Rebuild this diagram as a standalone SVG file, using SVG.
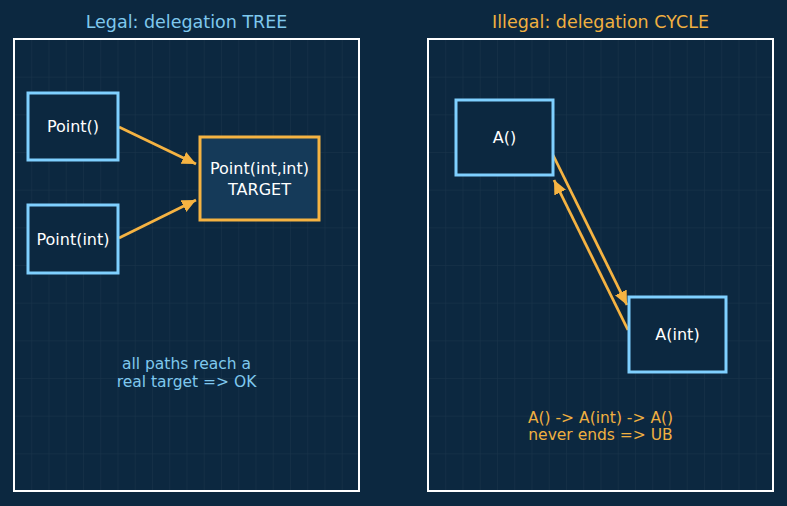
<svg xmlns="http://www.w3.org/2000/svg" width="787" height="506" viewBox="0 0 787 506">
<defs>
<style>
.title{font-family:"DejaVu Sans",sans-serif;font-size:17.5px;text-anchor:middle}
.lbl{font-family:"DejaVu Sans",sans-serif;font-size:16px;fill:#ffffff;text-anchor:middle;dominant-baseline:central}
.cap{font-family:"DejaVu Sans",sans-serif;font-size:15.5px;text-anchor:middle}
.panel{fill:url(#grid);stroke:#ffffff;stroke-width:2}
.blue{fill:#0c2840;stroke:#7fd0ff;stroke-width:3}
.tgt{fill:#153a59;stroke:#f5b342;stroke-width:3}
.edge{stroke:#f5b342;stroke-width:2.8;fill:none;marker-end:url(#ah)}
</style>
<pattern id="grid" patternUnits="userSpaceOnUse" x="14" y="39" width="17.25" height="37.667">
<rect width="17.25" height="37.667" fill="#0c2840"/>
<path d="M0 0V37.667M0 0H17.25" stroke="#ffffff" stroke-opacity="0.06" stroke-width="1"/>
</pattern>
<marker id="ah" markerUnits="userSpaceOnUse" markerWidth="15" markerHeight="13" refX="14" refY="6.5" orient="auto">
<path d="M0 0L14 6.5L0 13z" fill="#f5b342"/>
</marker>
</defs>
<rect width="787" height="506" fill="#0c2840"/>
<rect x="14" y="39" width="345" height="452" class="panel"/>
<rect x="428" y="39" width="345" height="452" class="panel"/>
<text x="186.5" y="28" class="title" fill="#7fc8ee">Legal: delegation TREE</text>
<text x="600.5" y="28" class="title" fill="#f0b040">Illegal: delegation CYCLE</text>
<g id="connectors">
<line x1="119" y1="127" x2="196" y2="164" class="edge"/>
<line x1="119" y1="238" x2="196" y2="200" class="edge"/>
<line x1="553" y1="155" x2="627" y2="305" class="edge"/>
<line x1="628" y1="330" x2="554" y2="180" class="edge"/>
</g>
<g id="point0">
<rect x="28" y="93" width="90" height="67" class="blue"/>
<text x="73" y="126.5" class="lbl">Point()</text>
</g>
<g id="point1">
<rect x="28" y="205" width="90" height="68" class="blue"/>
<text x="73" y="239" class="lbl">Point(int)</text>
</g>
<g id="target">
<rect x="200" y="137" width="119" height="83" class="tgt"/>
<text x="259.5" y="168" class="lbl">Point(int,int)</text>
<text x="259.5" y="189" class="lbl">TARGET</text>
</g>
<g id="a0">
<rect x="456" y="100" width="97" height="75" class="blue"/>
<text x="504.5" y="137.5" class="lbl">A()</text>
</g>
<g id="a1">
<rect x="629" y="297" width="97" height="75" class="blue"/>
<text x="677.5" y="334" class="lbl">A(int)</text>
</g>
<g id="captions">
<text x="186.5" y="369" class="cap" fill="#7fc8ee">all paths reach a</text>
<text x="186.5" y="387" class="cap" fill="#7fc8ee">real target =&gt; OK</text>
<text x="600.5" y="423" class="cap" fill="#f0b040">A() -&gt; A(int) -&gt; A()</text>
<text x="600.5" y="440" class="cap" fill="#f0b040">never ends =&gt; UB</text>
</g>
</svg>
